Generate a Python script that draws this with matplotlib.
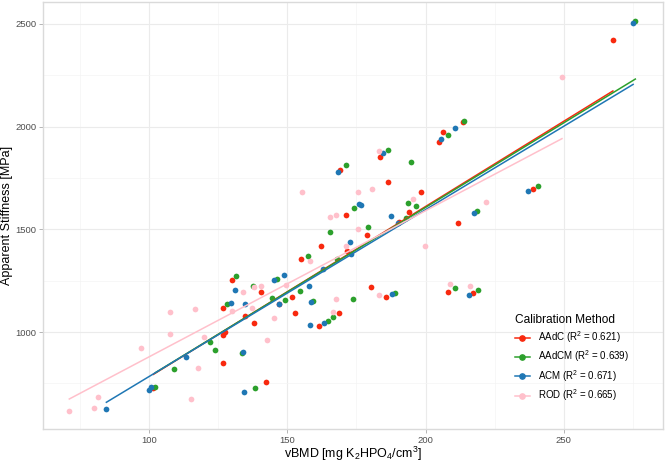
import numpy as np
import matplotlib.pyplot as plt
from matplotlib.lines import Line2D

plt.rcParams['font.family'] = ['Liberation Sans', 'DejaVu Sans']
plt.rcParams['mathtext.fontset'] = 'custom'
plt.rcParams['mathtext.rm'] = 'Liberation Sans'
plt.rcParams['mathtext.it'] = 'Liberation Sans:italic'

# vBMD [mg K2HPO4/cm3] vs apparent stiffness [MPa]
aadc_x = [101.7, 126.7, 127.5, 126.9, 126.7, 130.2, 134.9, 138.2, 142.4, 140.4, 147.1, 151.7,
          152.8, 154.9, 161.4, 168.7, 162.4, 171.6, 171.4, 178.7, 169.2, 183.5, 186.5, 180.3,
          185.9, 190.3, 194.2, 198.3, 204.9, 206.4, 213.4, 211.6, 208.2, 217.0, 238.8, 267.7]
aadc_y = [729, 848, 998, 985, 1118, 1252, 1078, 1045, 755, 1196, 1135, 1169,
          1091, 1355, 1028, 1094, 1420, 1394, 1571, 1472, 1786, 1854, 1732, 1220,
          1169, 1535, 1584, 1681, 1927, 1971, 2020, 1529, 1196, 1190, 1696, 2422]

aadcm_x = [102.4, 109.1, 122.3, 123.9, 128.1, 131.7, 133.8, 138.5, 137.5, 144.6, 146.2, 149.4,
           154.8, 157.6, 159.2, 164.6, 166.4, 165.5, 167.9, 173.7, 174.3, 179.3, 171.2, 186.3,
           188.9, 192.8, 193.8, 196.7, 194.7, 208.0, 213.9, 210.8, 219.1, 218.6, 240.6, 275.8]
aadcm_y = [734, 820, 950, 911, 1135, 1272, 899, 729, 1222, 1165, 1257, 1155,
           1198, 1368, 1151, 1053, 1072, 1487, 1357, 1162, 1605, 1509, 1812, 1886,
           1191, 1553, 1629, 1611, 1826, 1960, 2029, 1216, 1203, 1591, 1710, 2513]

acm_x = [84.7, 100.2, 100.9, 113.6, 129.7, 131.1, 134.7, 134.1, 134.6, 145.3, 148.9, 147.0,
         158.4, 163.2, 157.8, 158.5, 163.1, 173.0, 172.6, 175.8, 176.7, 168.4, 184.7, 187.5,
         187.8, 190.0, 205.6, 210.5, 215.6, 217.4, 237.0, 275.0]
acm_y = [627, 718, 731, 877, 1140, 1204, 1135, 903, 707, 1255, 1279, 1135,
         1036, 1044, 1225, 1145, 1308, 1380, 1436, 1625, 1616, 1779, 1869, 1563,
         1183, 1530, 1937, 1991, 1180, 1581, 1686, 2505]

rod_x = [71.3, 80.2, 81.7, 97.2, 107.7, 107.7, 115.1, 116.6, 117.8, 119.8, 130.1, 133.9,
         137.3, 138.1, 140.4, 142.8, 145.2, 149.5, 155.4, 158.3, 165.5, 167.7, 166.4, 167.5,
         171.3, 175.7, 175.7, 180.8, 183.2, 183.3, 195.3, 199.8, 208.9, 216.1, 221.7, 249.3]
rod_y = [616, 632, 682, 924, 1097, 989, 675, 1113, 823, 977, 1104, 1195,
         1118, 1217, 1224, 961, 1069, 1229, 1681, 1344, 1560, 1571, 1099, 1162,
         1421, 1503, 1680, 1694, 1882, 1182, 1647, 1418, 1234, 1224, 1631, 2241]

# linear fits as drawn in the chart (slope, intercept)
fit_slope = [8.307, 8.241, 8.129, 7.118]
fit_intercept = [-50.8, -41.9, -30.5, 166.5]

methods = ["AAdC", "AAdCM", "ACM", "ROD"]
r2 = ["0.621", "0.639", "0.671", "0.665"]
colors = ["#F8290F", "#2CA02C", "#1F77B4", "#FFC0CB"]
xs = [aadc_x, aadcm_x, acm_x, rod_x]
ys = [aadc_y, aadcm_y, acm_y, rod_y]

fig = plt.figure(figsize=(6.66, 4.65), dpi=100)
ax = fig.add_axes([43 / 666, 1 - 429 / 465, 620 / 666, 427 / 465])

for x, y, c in zip(xs, ys, colors):
    ax.scatter(x, y, s=17, color=c, linewidths=0, zorder=3)

for x, b, a, c in zip(xs, fit_slope, fit_intercept, colors):
    xl = np.array([min(x), max(x)])
    ax.plot(xl, a + b * xl, color=c, lw=1.1, zorder=4)

ax.set_xlim(61.8, 285.8)
ax.set_ylim(528, 2606)
ax.set_xticks([100, 150, 200, 250])
ax.set_xticks([75, 125, 175, 225, 275], minor=True)
ax.set_yticks([1000, 1500, 2000, 2500])
ax.set_yticks([750, 1250, 1750, 2250], minor=True)
ax.tick_params(which='major', length=2.7, width=0.6, color='#AAAAAA',
               labelsize=6.8, labelcolor='#4D4D4D', pad=2)
ax.tick_params(which='minor', length=0)
ax.grid(which='major', color='#EBEBEB', lw=0.8)
ax.grid(which='minor', color='#F4F4F4', lw=0.5)
ax.set_axisbelow(True)
for s in ax.spines.values():
    s.set_color('#DADADA')
    s.set_linewidth(1.0)

ax.set_xlabel(r'vBMD [mg K$_2$HPO$_4$/cm$^3$]', fontsize=9, labelpad=0.5)
ax.set_ylabel('Apparent Stiffness [MPa]', fontsize=9, labelpad=1.5)

handles = [Line2D([], [], color=c, marker='o', markersize=3.8, lw=1.1) for c in colors]
labels = [m + r" (R$^2$ = " + v + ")" for m, v in zip(methods, r2)]
ax.legend(handles, labels, title='Calibration Method', loc='upper left',
          bbox_to_anchor=(510 / 666, 1 - 309 / 465), bbox_transform=fig.transFigure,
          frameon=False, fontsize=7, title_fontsize=8.6, handlelength=1.55,
          handletextpad=0.8, labelspacing=0.36, borderpad=0, alignment='left')

fig.savefig('out.png', dpi=100)
